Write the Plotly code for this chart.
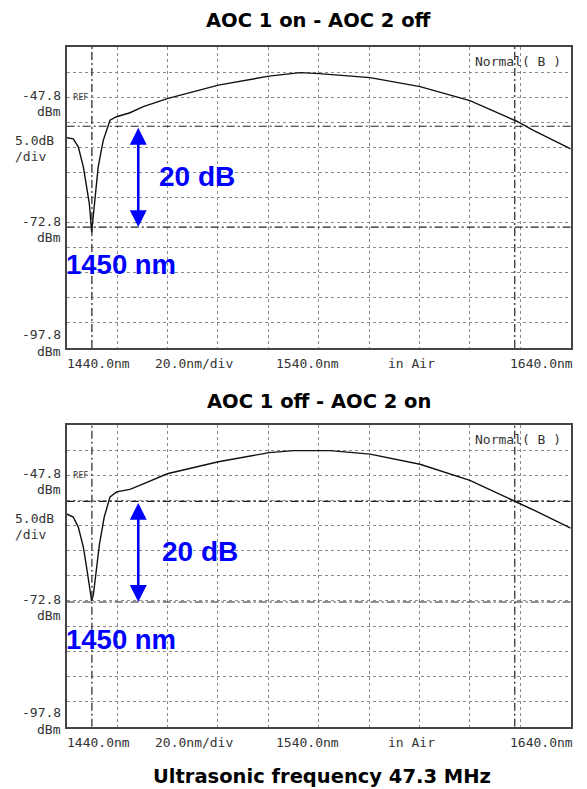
import plotly.graph_objects as go

# ---------------- data ----------------
wl_top = [1440, 1442.6, 1444.6, 1446.6, 1447.9, 1449.0, 1449.9, 1450.6, 1451.2, 1452.5,
          1454.5, 1457.2, 1459.8, 1465.1, 1470.4, 1479.9, 1500.2, 1520.3, 1532.6, 1540.2,
          1560.4, 1580.2, 1600.0, 1618.6, 1625.2, 1640]
db_top = [-55.9, -56.1, -57.7, -61.7, -65.7, -69.1, -74.7, -71.1, -67.1, -61.7,
          -56.4, -52.4, -51.7, -50.9, -49.7, -48.1, -45.4, -43.6, -42.9, -43.1,
          -43.9, -45.7, -48.5, -52.6, -54.4, -58.1]

wl_bot = [1440, 1442.6, 1444.6, 1446.6, 1447.9, 1449.0, 1449.9, 1450.6, 1451.7, 1453.0,
          1454.9, 1457.2, 1459.8, 1465.1, 1470.4, 1479.9, 1500.2, 1520.3, 1530.0, 1544.6,
          1560.4, 1580.2, 1600.0, 1618.3, 1625.2, 1640]
db_bot = [-55.5, -56.1, -58.1, -62.1, -66.1, -69.5, -72.8, -71.5, -66.8, -61.5,
          -56.1, -52.1, -51.1, -50.6, -49.5, -47.5, -45.1, -43.3, -42.9, -42.9,
          -43.6, -45.6, -48.8, -53.0, -54.7, -58.3]

x_grid = [1440, 1460, 1480, 1500, 1520, 1540, 1560, 1580, 1600, 1620, 1640]
y_range = [-97.8, -37.8]
ref_level = -47.8
mid_level = -72.8
bottom_level = -97.8

# marker lines (dash-dot) per panel
top_levels = [-53.6, -73.7]
bot_levels = [-53.0, -73.0]
marker_wl = [1450.0, 1617.8]
arrow_wl = 1468.4

titles = ["AOC 1 on - AOC 2 off", "AOC 1 off - AOC 2 on"]
x_labels = ["1440.0nm", "20.0nm/div", "1540.0nm", "in Air", "1640.0nm"]
x_label_pos = [1452.5, 1490.5, 1535.5, 1577, 1628.5]
big_title = "Ultrasonic frequency 47.3 MHz"

# the page body has an 8px margin; figure is offset by it
PAGE_W, PAGE_H = 587, 789
OFF = 8
W, H = PAGE_W - OFF, PAGE_H - OFF
px_left, px_right = 66.7 - OFF, 570.7 - OFF
panels = [(47.0 - OFF, 348.0 - OFF), (425.0 - OFF, 726.7 - OFF)]  # plot box top/bottom
title_px = [20 - OFF, 401 - OFF]

def px2py(p):
    return 1 - p / H

OSA_FONT = dict(family="DejaVu Sans Mono", size=13, color="#333333")
GRID = "#8a8a8a"
FRAME = "#444444"
BLUE = "#0000ff"

fig = go.Figure()
layout = dict(width=W, height=H, margin=dict(l=0, r=0, t=0, b=0),
              paper_bgcolor="white", plot_bgcolor="white", showlegend=False)

annotations = []
shapes = []

for i, ((ptop, pbot), wl, db, levels, title, tpx) in enumerate(
        zip(panels, [wl_top, wl_bot], [db_top, db_bot], [top_levels, bot_levels], titles, title_px)):
    n = "" if i == 0 else str(i + 1)
    xa, ya = "x" + n, "y" + n
    layout["xaxis" + n] = dict(domain=[px_left / W, px_right / W], range=[1440, 1640],
                               tickvals=x_grid, showticklabels=False, ticks="",
                               showgrid=True, gridcolor=GRID, griddash="dot", gridwidth=1,
                               showline=True, mirror=True, linecolor=FRAME, linewidth=1.5,
                               zeroline=False, anchor=ya, fixedrange=True)
    layout["yaxis" + n] = dict(domain=[px2py(pbot), px2py(ptop)], range=y_range,
                               tick0=-97.8, dtick=5, showticklabels=False, ticks="",
                               showgrid=True, gridcolor=GRID, griddash="dot", gridwidth=1,
                               showline=True, mirror=True, linecolor=FRAME, linewidth=1.5,
                               zeroline=False, anchor=xa, fixedrange=True)

    fig.add_trace(go.Scatter(x=wl, y=db, mode="lines", xaxis=xa, yaxis=ya,
                             line=dict(color="#111111", width=1.4, shape="linear")))

    # dash-dot marker lines
    for lv in levels:
        shapes.append(dict(type="line", xref=xa, yref=ya, x0=1440, x1=1640, y0=lv, y1=lv,
                           line=dict(color="#222222", width=1.2, dash="8px,3px,2px,3px")))
    for mw in marker_wl:
        shapes.append(dict(type="line", xref=xa, yref=ya, x0=mw, x1=mw, y0=y_range[0], y1=y_range[1],
                           line=dict(color="#222222", width=1.2, dash="8px,3px,2px,3px")))

    # panel title
    annotations.append(dict(text="<b>%s</b>" % title, xref="paper", yref="paper",
                            x=(319 - OFF) / W, y=px2py(tpx), yanchor="middle", showarrow=False,
                            font=dict(family="DejaVu Sans", size=19.5, color="black")))

    # left labels
    lx = (62.7 - OFF) / W
    annotations += [
        dict(text="%.1f" % ref_level, xref="paper", yref=ya, x=lx, y=ref_level, xanchor="right",
             yshift=2, showarrow=False, font=OSA_FONT),
        dict(text="dBm", xref="paper", yref=ya, x=lx, y=ref_level, xanchor="right",
             yshift=-14, showarrow=False, font=OSA_FONT),
        dict(text="5.0dB", xref="paper", yref=ya, x=(13 - OFF) / W, y=ref_level, xanchor="left",
             yshift=-43, showarrow=False, font=OSA_FONT),
        dict(text="/div", xref="paper", yref=ya, x=(13 - OFF) / W, y=ref_level, xanchor="left",
             yshift=-59, showarrow=False, font=OSA_FONT),
        dict(text="%.1f" % mid_level, xref="paper", yref=ya, x=lx, y=mid_level, xanchor="right",
             yshift=1, showarrow=False, font=OSA_FONT),
        dict(text="dBm", xref="paper", yref=ya, x=lx, y=mid_level, xanchor="right",
             yshift=-15, showarrow=False, font=OSA_FONT),
        dict(text="%.1f" % bottom_level, xref="paper", yref=ya, x=lx, y=bottom_level, xanchor="right",
             yshift=14, showarrow=False, font=OSA_FONT),
        dict(text="dBm", xref="paper", yref=ya, x=lx, y=bottom_level, xanchor="right",
             yshift=-3, showarrow=False, font=OSA_FONT),
        dict(text="REF", xref=xa, yref=ya, x=1441.8, y=ref_level, xanchor="left",
             showarrow=False, font=dict(family="DejaVu Sans", size=8, color="#333333")),
        dict(text="Normal( B )", xref=xa, yref=ya, x=1637, y=y_range[1], xanchor="right",
             yanchor="top", yshift=-5, showarrow=False, font=OSA_FONT),
    ]
    # bottom x labels
    for lab, pos in zip(x_labels, x_label_pos):
        annotations.append(dict(text=lab, xref=xa, yref=ya, x=pos, y=y_range[0],
                                yanchor="top", yshift=-6, showarrow=False, font=OSA_FONT))

    # blue double arrow and labels
    annotations.append(dict(text="", xref=xa, yref=ya, axref=xa, ayref=ya,
                            x=arrow_wl, y=levels[1], ax=arrow_wl, ay=levels[0],
                            showarrow=True, arrowside="end+start", arrowhead=2,
                            arrowsize=1.3, arrowwidth=2.6, arrowcolor=BLUE))
    annotations.append(dict(text="<b>20 dB</b>", xref=xa, yref=ya, x=arrow_wl + 7.3 + 1.2 * i,
                            y=(levels[0] + levels[1]) / 2, xanchor="left", showarrow=False,
                            font=dict(family="Liberation Sans", size=28, color=BLUE)))
    annotations.append(dict(text="<b>1450 nm</b>", xref=xa, yref=ya, x=1440, y=levels[1] - 7.4,
                            xanchor="left", xshift=-3, showarrow=False,
                            font=dict(family="Liberation Sans", size=27.5, color=BLUE)))

annotations.append(dict(text="<b>%s</b>" % big_title, xref="paper", yref="paper",
                        x=(322 - OFF) / W, y=px2py(776 - OFF), yanchor="middle", showarrow=False,
                        font=dict(family="DejaVu Sans", size=19.5, color="black")))

layout["annotations"] = annotations
layout["shapes"] = shapes
fig.update_layout(**layout)
fig.write_html("out.html")
